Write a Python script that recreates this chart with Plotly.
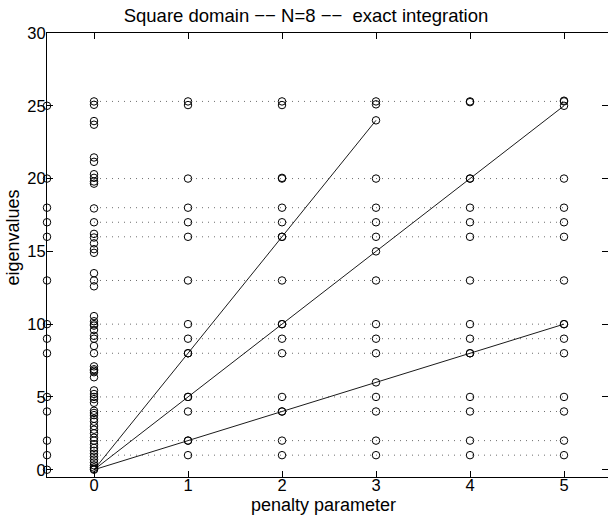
import plotly.graph_objects as go

# Penalty values (x axis) and eigenvalues computed at each penalty
penalty = [0, 1, 2, 3, 4, 5]

eig_p0 = [25.3, 25.07, 23.95, 23.7, 21.45, 21.15, 20.3, 20.05, 19.8, 19.65,
          17.95, 17.0, 16.2, 15.95, 15.55, 15.15, 14.9, 13.5, 13.0, 12.6,
          10.55, 10.2, 10.0, 9.9, 9.6, 9.2, 9.0, 8.5, 8.0, 7.1, 6.9, 6.8,
          6.7, 6.35, 5.45, 5.2, 5.0, 4.85, 4.6, 4.05, 3.9, 3.75, 3.5, 3.3,
          3.0, 2.75, 2.5, 2.2, 2.0, 1.75, 1.5, 1.3, 1.1, 0.9, 0.7, 0.5,
          0.3, 0.15, 0.05, 0.0]
eig_p1 = [25.3, 25.05, 20, 18, 17, 16, 13, 10, 9, 8, 8, 5, 5, 4, 2, 2, 1]
eig_p2 = [25.3, 25.05, 20, 20.05, 18, 17, 16, 16, 13, 10, 10, 9, 8, 5, 4, 4, 2, 1]
eig_p3 = [25.3, 25.1, 24, 20, 18, 17, 16, 15, 13, 10, 9, 8, 6, 5, 4, 2, 1]
eig_p4 = [25.3, 25.25, 20, 20, 18, 17, 16, 13, 10, 9, 8, 8, 5, 4, 2, 1]
eig_p5 = [25.35, 25.3, 25, 20, 18, 17, 16, 13, 10, 10, 9, 8, 5, 4, 2, 1]
columns = [eig_p0, eig_p1, eig_p2, eig_p3, eig_p4, eig_p5]

# Exact eigenvalues of the square, shown on the left axis
exact_x = -0.5
exact = [0, 1, 2, 4, 5, 8, 9, 10, 13, 16, 17, 18, 20, 25]

# Penalty-independent eigenvalues (dotted guides)
plateau = [25.3, 20, 18, 17, 16, 13, 10, 9, 8, 5, 4, 2, 1]

# Spurious branches growing with the penalty
branch_a = [0, 8, 16, 24]
branch_b = [0, 5, 10, 15, 20, 25]
branch_c = [0, 2, 4, 6, 8, 10]
branches = [branch_a, branch_b, branch_c]

x_ticks = [0, 1, 2, 3, 4, 5]
y_ticks = [0, 5, 10, 15, 20, 25, 30]

FONT = "Liberation Sans, Arial, Helvetica, sans-serif"
MARK = dict(symbol="circle-open", size=7.5, color="black",
            line=dict(width=1, color="black"))

fig = go.Figure()

for v in plateau:
    fig.add_trace(go.Scatter(
        x=[penalty[0], penalty[-1]], y=[v, v], mode="lines",
        line=dict(color="rgb(110,110,110)", width=1, dash="1px,5px"),
        showlegend=False, hoverinfo="skip"))

for br in branches:
    fig.add_trace(go.Scatter(
        x=penalty[:len(br)], y=br, mode="lines",
        line=dict(color="black", width=0.9),
        showlegend=False, hoverinfo="skip"))

mx, my = [], []
for p, col in zip(penalty, columns):
    mx.extend([p] * len(col))
    my.extend(col)
fig.add_trace(go.Scatter(x=mx, y=my, mode="markers", marker=MARK,
                         showlegend=False))

fig.add_trace(go.Scatter(
    x=[exact_x] * len(exact), y=exact, mode="markers", cliponaxis=False,
    marker=MARK, showlegend=False))

# helper trace so the right-hand tick axis is drawn
fig.add_trace(go.Scatter(x=[None], y=[None], yaxis="y2", showlegend=False))

W, H = 608, 515
ML, MR, MT, MB = 47, 0, 33, 38
plot_w = W - ML - MR
plot_h = H - MT - MB
px_per_unit = 94.0

fig.update_layout(
    width=W, height=H,
    margin=dict(l=ML, r=MR, t=MT, b=MB, pad=0),
    paper_bgcolor="white", plot_bgcolor="white",
    font=dict(family=FONT, size=16, color="black"),
    title=dict(text="Square domain \u2212\u2212 N=8 \u2212\u2212  exact integration",
               x=306 / W, xanchor="center", xref="container",
               y=1 - 16 / H, yanchor="middle", yref="container",
               font=dict(family=FONT, size=18.5, color="black")),
    xaxis=dict(range=[-0.5, -0.5 + plot_w / px_per_unit],
               tickvals=x_ticks, ticktext=[str(t) for t in x_ticks],
               ticks="inside", ticklen=6, tickwidth=1, tickcolor="black",
               showline=True, linecolor="black", linewidth=1, mirror="ticks",
               showgrid=False, zeroline=False, ticklabelstandoff=-7,
               tickfont=dict(family=FONT, size=16.5)),
    yaxis=dict(range=[-0.5, 30], tickvals=y_ticks,
               ticks="inside", ticklen=6, tickwidth=1, tickcolor="black",
               showline=True, linecolor="black", linewidth=1, mirror=False,
               showgrid=False, zeroline=False, ticklabelstandoff=-3,
               tickfont=dict(family=FONT, size=16.5)),
    yaxis2=dict(range=[-0.5, 30], tickvals=y_ticks, overlaying="y",
                side="right", ticks="inside", ticklen=6, tickwidth=1,
                tickcolor="black", showline=False, showticklabels=False,
                showgrid=False, zeroline=False),
    annotations=[
        dict(text="penalty parameter", xref="paper", yref="paper",
             x=(323 - ML) / plot_w, y=-(505 - (H - MB)) / plot_h,
             xanchor="center", yanchor="middle", showarrow=False,
             font=dict(family=FONT, size=18)),
        dict(text="eigenvalues", xref="paper", yref="paper",
             x=(12.5 - ML) / plot_w, y=((H - MB) - 238) / plot_h,
             xanchor="center", yanchor="middle", textangle=-90,
             showarrow=False, font=dict(family=FONT, size=18)),
    ],
)

fig.write_html("out.html")
